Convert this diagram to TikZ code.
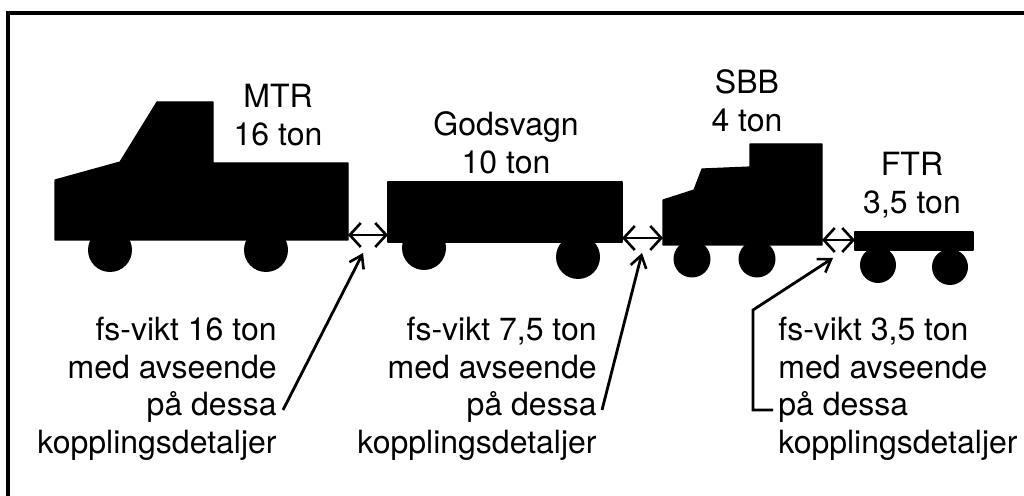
\documentclass[tikz,border=0pt]{standalone}
\usepackage{fontspec}
\setmainfont{TeX Gyre Heros}
\usetikzlibrary{arrows.meta}
\tikzset{
  vehicle/.style={fill=black, draw=black, line width=0.6pt, line join=round},
  wheel/.style={fill=black},
  lbl/.style={font=\fontsize{16}{19}\selectfont, inner sep=0pt, align=center},
  note/.style={font=\fontsize{16}{18.85}\selectfont, inner sep=0pt},
  coupling/.style={line width=1.4pt, {Straight Barb[length=5.5pt,width=12pt,line width=1.3pt]}-{Straight Barb[length=5.5pt,width=12pt,line width=1.3pt]}},
  pointer/.style={line width=1.4pt, -{Straight Barb[length=6pt,width=8pt,line width=1.3pt]}, line join=miter},
  frame/.style={line width=1.6pt}
}
\begin{document}
\begin{tikzpicture}[x=0.5pt,y=-0.5pt]
\useasboundingbox (0,0) rectangle (1024,496);
% frame
\draw[frame] (8,497) -- (8,13) -- (1025,13);

% MTR truck
\fill[vehicle] (55,180) -- (120,162) -- (157,102) -- (213,102) -- (213,163) -- (348,163) -- (348,240) -- (55,240) -- cycle;
\fill[wheel] (110,250) circle (22);
\fill[wheel] (266,250) circle (22);
\node[lbl, anchor=north] (mtr) at (278,84) {MTR\\16 ton};

% Godsvagn
\fill[vehicle] (388,182) rectangle (622,242);
\fill[wheel] (424,248) circle (22);
\fill[wheel] (578,257) circle (22);
\node[lbl, anchor=north] (gods) at (506,111) {Godsvagn\\10 ton};

% SBB
\fill[vehicle] (663,200) -- (694,190) -- (702,169) -- (750,167) -- (750,144) -- (822,144) -- (822,245) -- (663,245) -- cycle;
\fill[wheel] (692,259) circle (18.5);
\fill[wheel] (757,259) circle (18.5);
\node[lbl, anchor=north] (sbb) at (747,69) {SBB\\4 ton};

% FTR
\fill[vehicle] (855,232) rectangle (973,250);
\fill[wheel] (878,265) circle (18);
\fill[wheel] (950,267) circle (18);
\node[lbl, anchor=north] (ftr) at (912,152) {FTR\\3,5 ton};

% coupling points
\coordinate (mtrR) at (348,235);
\coordinate (godsL) at (388,235);
\coordinate (godsR) at (622,238);
\coordinate (sbbL) at (663,238);
\coordinate (sbbR) at (822,240);
\coordinate (ftrL) at (855,240);
\draw[coupling] (mtrR) -- (godsL);
\draw[coupling] (godsR) -- (sbbL);
\draw[coupling] (sbbR) -- (ftrL);

% notes
\node[note, anchor=north east, align=right] (n1) at (277,316.5) {fs-vikt 16 ton\\med avseende\\på dessa\\kopplingsdetaljer};
\node[note, anchor=north east, align=right] (n2) at (597,316.5) {fs-vikt 7,5 ton\\med avseende\\på dessa\\kopplingsdetaljer};
\node[note, anchor=north west, align=left] (n3) at (778,316.5) {fs-vikt 3,5 ton\\med avseende\\på dessa\\kopplingsdetaljer};

% pointers
\coordinate (p1s) at (283,410);
\coordinate (p1e) at (363,253);
\coordinate (p2s) at (602,410);
\coordinate (p2e) at (642,253);
\coordinate (p3s) at (773,410);
\coordinate (p3a) at (753,410);
\coordinate (p3b) at (753,310);
\coordinate (p3e) at (833,258);
\draw[pointer] (p1s) -- (p1e);
\draw[pointer] (p2s) -- (p2e);
\draw[pointer] (p3s) -- (p3a) -- (p3b) -- (p3e);
\end{tikzpicture}
\end{document}
